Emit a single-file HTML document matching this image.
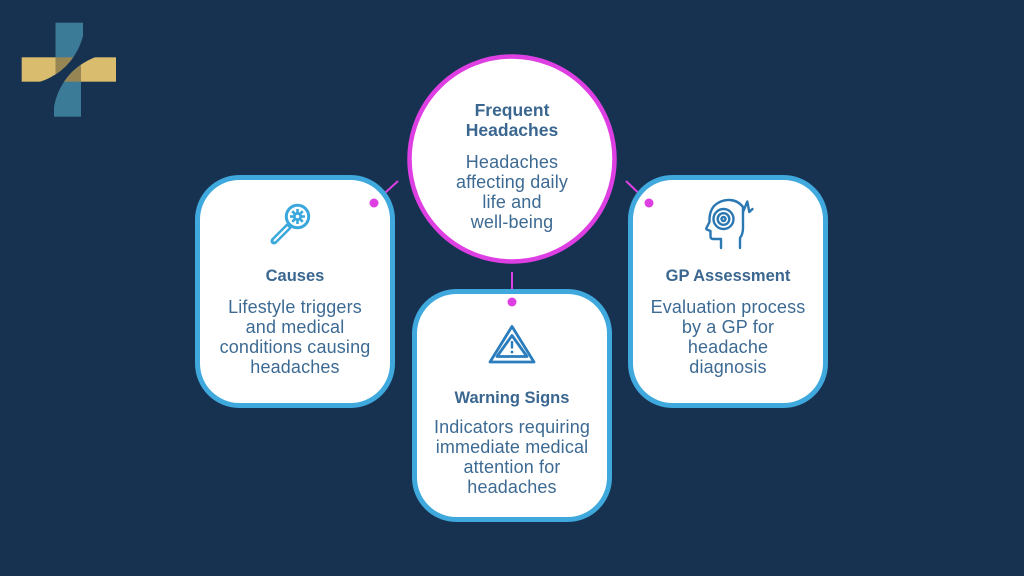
<!DOCTYPE html>
<html><head><meta charset="utf-8"><style>
html,body{margin:0;padding:0;background:#173250;}
svg{display:block;}
text{font-family:"Liberation Sans",Arial,sans-serif;}
.t{font-weight:bold;font-size:16.5px;fill:#3a6690;}
.b{font-size:18px;fill:#3d6a93;letter-spacing:0.15px;}
</style></head><body>
<svg width="1024" height="576" viewBox="0 0 1024 576" xmlns="http://www.w3.org/2000/svg">
<rect width="1024" height="576" fill="#173250"/>
<defs>
<clipPath id="cA"><circle cx="20" cy="20" r="65"/></clipPath>
<clipPath id="cB"><circle cx="118" cy="118" r="65"/></clipPath>
</defs>
<!-- logo -->
<g clip-path="url(#cA)">
<rect x="21.7" y="57.3" width="94.3" height="24.4" fill="#d9bc6d"/>
<rect x="55.5" y="22.7" width="27.5" height="94" fill="#3c7b98"/>
<rect x="55.5" y="57.3" width="27.5" height="24.4" fill="#978654"/>
</g>
<g clip-path="url(#cB)">
<rect x="21.7" y="57.3" width="94.3" height="24.4" fill="#d9bc6d"/>
<rect x="54" y="22.7" width="27" height="94" fill="#3c7b98"/>
<rect x="54" y="57.3" width="27" height="24.4" fill="#978654"/>
</g>

<!-- connectors -->
<g stroke="#de3fe3" stroke-width="2">
<line x1="398" y1="181" x2="374" y2="203"/>
<line x1="626" y1="181" x2="649" y2="203"/>
<line x1="512" y1="272" x2="512" y2="302"/>
</g>

<!-- cards -->
<g fill="#fff" stroke="#3fa9de" stroke-width="5">
<rect x="197.5" y="177.5" width="195" height="228" rx="42"/>
<rect x="414.5" y="291.5" width="195" height="228" rx="42"/>
<rect x="630.5" y="177.5" width="195" height="228" rx="42"/>
</g>
<!-- circle -->
<circle cx="512" cy="159" r="102.5" fill="#fff" stroke="#de3fe3" stroke-width="4.5"/>

<g fill="#de3fe3">
<circle cx="374" cy="203" r="4.5"/>
<circle cx="649" cy="203" r="4.5"/>
<circle cx="512" cy="302" r="4.5"/>
</g>

<!-- magnifier icon -->
<g stroke="#3aa8dc" fill="none">
<circle cx="297.5" cy="216.5" r="11.2" stroke-width="3"/>
<line x1="288.5" y1="226.5" x2="274" y2="241" stroke-width="7" stroke-linecap="round"/>
<line x1="287.5" y1="227.5" x2="274.5" y2="240.5" stroke="#fff" stroke-width="2" stroke-linecap="round"/>
<g stroke-width="2.6">
<line x1="297.5" y1="209" x2="297.5" y2="224"/>
<line x1="290" y1="216.5" x2="305" y2="216.5"/>
<line x1="292.2" y1="211.2" x2="302.8" y2="221.8"/>
<line x1="302.8" y1="211.2" x2="292.2" y2="221.8"/>
</g>
<circle cx="297.5" cy="216.5" r="4.5" fill="#3aa8dc" stroke="none"/>
<circle cx="297.5" cy="216.5" r="1.8" fill="#fff" stroke="none"/>
</g>

<!-- warning icon -->
<g stroke="#2b7dbd" fill="none" stroke-width="2.8" stroke-linejoin="round">
<path d="M512,326.5 L534,362 L490,362 Z"/>
<path d="M512,335.5 L527,356.5 L497,356.5 Z"/>
<line x1="512" y1="341" x2="512" y2="348.5" stroke-width="2.4"/>
<circle cx="512" cy="352" r="1.4" fill="#2b7dbd" stroke="none"/>
</g>

<!-- head icon -->
<g stroke="#2b78b3" fill="none" stroke-width="2.4" stroke-linejoin="round" stroke-linecap="round">
<path d="M721,248 L721,239 L713,239 Q710.5,239 710.5,236 L710.5,231 L706.8,229.5 Q705.8,229 706.5,227.8 L709.5,222 Q709,212 714,206 Q721,199.5 730,200 Q738,200.5 743,207 L743,228 Q743,234 740,238 L740,248"/>
<path d="M743,212 L747.3,201.5 L749.3,212 L752.5,209"/>
<circle cx="723.5" cy="219" r="10"/>
<circle cx="723.5" cy="219" r="5.8"/>
<circle cx="723.5" cy="219" r="2"/>
</g>

<!-- text -->
<g text-anchor="middle">
<text x="512" y="116" class="t" style="font-size:17.5px">Frequent</text>
<text x="512" y="136" class="t" style="font-size:17.5px">Headaches</text>
<text x="512" y="168" class="b">Headaches</text>
<text x="512" y="188" class="b">affecting daily</text>
<text x="512" y="208" class="b">life and</text>
<text x="512" y="228" class="b">well-being</text>

<text x="295" y="281" class="t">Causes</text>
<text x="295" y="313" class="b">Lifestyle triggers</text>
<text x="295" y="333" class="b">and medical</text>
<text x="295" y="353" class="b">conditions causing</text>
<text x="295" y="373" class="b">headaches</text>

<text x="512" y="403" class="t">Warning Signs</text>
<text x="512" y="433" class="b">Indicators requiring</text>
<text x="512" y="453" class="b">immediate medical</text>
<text x="512" y="473" class="b">attention for</text>
<text x="512" y="493" class="b">headaches</text>

<text x="728" y="281" class="t">GP Assessment</text>
<text x="728" y="313" class="b">Evaluation process</text>
<text x="728" y="333" class="b">by a GP for</text>
<text x="728" y="353" class="b">headache</text>
<text x="728" y="373" class="b">diagnosis</text>
</g>
</svg>
</body></html>
